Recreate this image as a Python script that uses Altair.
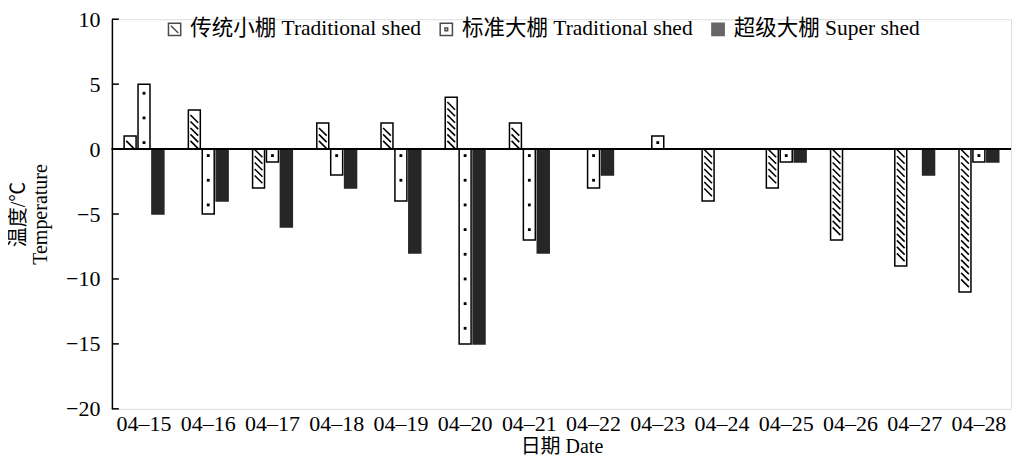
import altair as alt
import pandas as pd

dates = ["04–15", "04–16", "04–17", "04–18", "04–19", "04–20", "04–21",
         "04–22", "04–23", "04–24", "04–25", "04–26", "04–27", "04–28"]
series = ["传统小棚 Traditional shed", "标准大棚 Traditional shed", "超级大棚 Super shed"]
traditional = [1, 3, -3, 2, 2, 4, 2, 0, 0, -4, -3, -7, -9, -11]
standard = [5, -5, -1, -2, -4, -15, -7, -3, 1, 0, -1, 0, 0, -1]
super_shed = [-5, -4, -6, -3, -8, -15, -8, -2, 0, 0, -1, 0, -2, -1]
y_ticks = [-20, -15, -10, -5, 0, 5, 10]

FONT = "Liberation Serif, 'Noto Sans CJK SC'"

rows = []
for s, vals in zip(series, [traditional, standard, super_shed]):
    for d, v in zip(dates, vals):
        rows.append({"date": d, "series": s, "value": v})
bars_df = pd.DataFrame(rows)

# decorative texture marks derived from the bar values
hatch_rows = []
for d, v in zip(dates, traditional):
    sgn = 1 if v > 0 else -1
    k = 0
    while v != 0 and 0.33 + 0.5 * k <= abs(v) - 0.3:
        hatch_rows.append({"date": d, "series": series[0], "value": sgn * (0.33 + 0.5 * k)})
        k += 1
hatch_df = pd.DataFrame(hatch_rows)

dot_rows = []
for d, v in zip(dates, standard):
    sgn = 1 if v > 0 else -1
    k = 0
    while v != 0 and 0.5 + 1.9 * k <= abs(v) - 0.3:
        dot_rows.append({"date": d, "series": series[1], "value": sgn * (0.5 + 1.9 * k)})
        k += 1
dot_df = pd.DataFrame(dot_rows)

tick_df = pd.DataFrame({"value": y_ticks})

x_enc = alt.X("date:N", sort=dates,
              scale=alt.Scale(domain=dates, paddingInner=0, paddingOuter=0),
              axis=alt.Axis(title="日期 Date", labelAngle=0, domain=False, ticks=False,
                            labelFontSize=22, labelPadding=5, labelColor="black",
                            titleFontSize=20, titleFontWeight="normal", titleColor="black",
                            titlePadding=2, labelFont=FONT, titleFont=FONT))
xo_enc = alt.XOffset("series:N", sort=series,
                     scale=alt.Scale(domain=series, paddingInner=0.14, paddingOuter=0.88))
y_enc = alt.Y("value:Q",
              scale=alt.Scale(domain=[-20, 10], nice=False),
              axis=alt.Axis(values=y_ticks, ticks=False, grid=False, domainColor="black",
                            domainWidth=1.5, labelFontSize=22, labelPadding=12,
                            labelColor="black", labelFont=FONT,
                            title=["温度/℃", "Temperature"], titleFont=FONT,
                            titleFontSize=20, titleFontWeight="normal", titleColor="black",
                            titlePadding=15))

hatch_sym = "M-1,-1H1V1H-1Z M-0.6,-0.6L0.6,0.6"
dot_sym = "M-1,-1H1V1H-1Z M-0.22,-0.22H0.22V0.22H-0.22Z"

legend = alt.Legend(title=None, orient="none", legendX=52, legendY=-1, direction="horizontal",
                    labelFontSize=21.5, labelFont=FONT, labelColor="black", labelLimit=0,
                    symbolSize=150, symbolStrokeWidth=1.5,
                    columnPadding=14, labelOffset=5)

fill_enc = alt.Fill("series:N", sort=series,
                    scale=alt.Scale(domain=series, range=["white", "white", "#262626"]),
                    legend=legend)
stroke_enc = alt.Stroke("series:N", sort=series,
                        scale=alt.Scale(domain=series, range=["black", "black", "#262626"]),
                        legend=legend)
shape_enc = alt.Shape("series:N", sort=series,
                      scale=alt.Scale(domain=series, range=[hatch_sym, dot_sym, "square"]),
                      legend=legend)

bars = alt.Chart(bars_df).mark_bar(strokeWidth=1.5).encode(
    x=x_enc, xOffset=xo_enc, y=y_enc, fill=fill_enc, stroke=stroke_enc)

# hidden layer that only supplies legend symbol shapes
legend_layer = alt.Chart(bars_df).mark_point(filled=True, clip=True, strokeWidth=1.5).encode(
    x=x_enc, xOffset=xo_enc, y=alt.value(-200), fill=fill_enc, stroke=stroke_enc,
    shape=shape_enc)

hatch = alt.Chart(hatch_df).mark_point(shape="M-1,-1L1,1", filled=False, stroke="black",
                                       strokeWidth=1.6, size=60, opacity=1).encode(
    x=x_enc, xOffset=xo_enc, y=y_enc)

dots = alt.Chart(dot_df).mark_square(size=8, color="black", opacity=1).encode(
    x=x_enc, xOffset=xo_enc, y=y_enc)

zero = alt.Chart(tick_df).mark_rule(color="black", strokeWidth=1.5).encode(y=alt.datum(0))

ticks = alt.Chart(tick_df).mark_rule(color="black", strokeWidth=1.5).encode(
    y=y_enc, x=alt.value(0), x2=alt.value(7))

chart = alt.layer(bars, legend_layer, hatch, dots, zero, ticks).properties(
    width=900, height=390, padding=0
).configure_view(stroke=None).configure(font=FONT, background="white")

chart.save("out.html", embed_options={"renderer": "svg", "actions": False})
